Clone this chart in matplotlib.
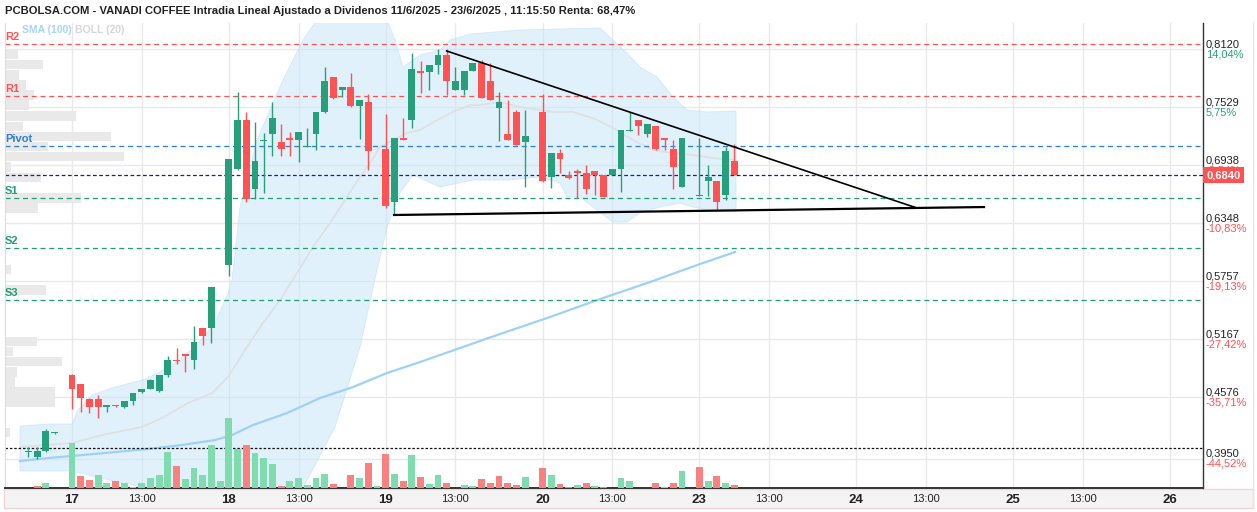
import numpy as np
import matplotlib.pyplot as plt
from matplotlib.patches import Rectangle

plt.rcParams['font.family'] = ['Liberation Sans', 'DejaVu Sans']

# x unit = one 30 min candle, 18 slots per session, slot 0 = 17/6 09:00
day16 = [-5, -4, -3, -2]
slot = day16 + list(range(0, 17)) + list(range(18, 35)) + list(range(36, 53)) \
    + list(range(54, 71)) + list(range(72, 77))

o = [0.4019, 0.3971, 0.4029, 0.4212,
     # 17
     0.4803, 0.4712, 0.4559, 0.4559, 0.4477, 0.4495, 0.4477, 0.4538, 0.4633,
     0.4661, 0.4643, 0.4803, 0.4956, 0.5017, 0.4956, 0.5282, 0.5282,
     # 18
     0.5923, 0.6901, 0.7400, 0.6700, 0.7186, 0.7261, 0.7176, 0.7214, 0.7200,
     0.7128, 0.7261, 0.7485, 0.7838, 0.7709, 0.7736, 0.7546, 0.7583,
     # 19
     0.7105, 0.6568, 0.7217, 0.7403, 0.7899, 0.7886, 0.7963, 0.8062, 0.7706,
     0.7706, 0.7899, 0.7980, 0.7797, 0.7525, 0.7257, 0.7481, 0.7179,
     # 20
     0.7481, 0.6820, 0.7064, 0.6837, 0.6878, 0.6860, 0.6881, 0.6840, 0.6840,
     0.6904, 0.7290, 0.7400, 0.7261, 0.7339, 0.7217, 0.7105, 0.6718,
     # 23
     0.6623, 0.6782, 0.6779, 0.6636, 0.6983]
h = [0.4073, 0.4073, 0.4253, 0.4226,
     0.4810, 0.4715, 0.4572, 0.4600, 0.4498, 0.4495, 0.4538, 0.4620, 0.4661,
     0.4762, 0.4803, 0.4997, 0.5078, 0.5017, 0.5302, 0.5282, 0.5699,
     0.7003, 0.7682, 0.7478, 0.7377, 0.7271, 0.7580, 0.7356, 0.7278, 0.7278,
     0.7315, 0.7481, 0.7937, 0.7838, 0.7736, 0.7876, 0.7604, 0.7662,
     0.7461, 0.7217, 0.7417, 0.8079, 0.8001, 0.7960, 0.8120, 0.8120, 0.7937,
     0.7899, 0.7980, 0.8011, 0.7980, 0.7682, 0.7604, 0.7502, 0.7502,
     0.7665, 0.7064, 0.7105, 0.6878, 0.6901, 0.6939, 0.6881, 0.6840, 0.6901,
     0.7298, 0.7481, 0.7400, 0.7359, 0.7339, 0.7217, 0.7196, 0.7217,
     0.7217, 0.6942, 0.6779, 0.7125, 0.7156]
l = [0.3965, 0.3948, 0.4022, 0.4202,
     0.4457, 0.4430, 0.4419, 0.4362, 0.4430, 0.4480, 0.4470, 0.4498, 0.4623,
     0.4661, 0.4633, 0.4786, 0.4912, 0.4837, 0.4867, 0.5109, 0.5132,
     0.5815, 0.6891, 0.6562, 0.6596, 0.6657, 0.7037, 0.7037, 0.7037, 0.6975,
     0.7128, 0.7098, 0.7474, 0.7614, 0.7637, 0.7535, 0.7207, 0.6894,
     0.6501, 0.6436, 0.7196, 0.7316, 0.7678, 0.7709, 0.7872, 0.7658, 0.7706,
     0.7658, 0.7899, 0.7627, 0.7604, 0.7189, 0.7196, 0.7145, 0.6715,
     0.6772, 0.6711, 0.6857, 0.6796, 0.6609, 0.6650, 0.6633, 0.6619, 0.6840,
     0.6670, 0.7288, 0.7250, 0.7230, 0.7098, 0.7098, 0.6694, 0.6718,
     0.6623, 0.6629, 0.6476, 0.6582, 0.6840]
c = [0.4024, 0.4029, 0.4233, 0.4218,
     0.4661, 0.4572, 0.4480, 0.4480, 0.4498, 0.4485, 0.4538, 0.4620, 0.4661,
     0.4752, 0.4803, 0.4956, 0.4946, 0.5000, 0.5139, 0.5200, 0.5699,
     0.7003, 0.7400, 0.6599, 0.6983, 0.7190, 0.7420, 0.7108, 0.7200, 0.7278,
     0.7135, 0.7481, 0.7797, 0.7624, 0.7736, 0.7546, 0.7604, 0.7087,
     0.6527, 0.7217, 0.7196, 0.7919, 0.7882, 0.7960, 0.8062, 0.7800, 0.7797,
     0.7899, 0.7980, 0.7627, 0.7604, 0.7583, 0.7196, 0.7145, 0.7237,
     0.6779, 0.7064, 0.7006, 0.6806, 0.6860, 0.6700, 0.6840, 0.6619, 0.6901,
     0.7298, 0.7298, 0.7342, 0.7359, 0.7105, 0.7200, 0.6921, 0.7217,
     0.6633, 0.6820, 0.6568, 0.7084, 0.6840]

# volume (relative), up = green
vol_slot = [-4, -3, 0, 1, 2, 3, 4, 5, 6, 7, 8, 9, 10, 11, 12, 13, 14, 15, 16, 17,
            18, 19, 20, 21, 22, 23, 24, 25, 26, 27, 28, 29, 30, 32, 33, 34, 35,
            36, 37, 38, 39, 40, 41, 42, 43, 45, 46, 47, 48, 49, 50, 51, 52,
            54, 55, 56, 57, 58, 59, 60, 61, 63, 64, 67, 68, 69, 70,
            72, 73, 74, 75, 76]
vol = [2.3, 5, 45, 12.3, 8, 13.3, 5, 7, 5, 1.3, 5, 10.3, 13, 36, 22.3, 9.3, 20.3, 13.3, 43, 7,
       70, 39, 43, 35, 30, 24, 2.3, 7, 10, 3, 10, 14, 4, 13, 10, 25, 2.3,
       34, 14, 7, 33, 11.3, 4, 13, 5, 3, 2, 9, 5, 12, 5, 3, 11,
       20, 13, 4, 1.3, 3, 5, 2, 1.3, 10, 7, 5, 1.3, 5, 17,
       21, 7, 12, 5, 3]
vol_up = [0, 1, 1, 0, 0, 1, 1, 0, 1, 1, 1, 1, 1, 1, 0, 1, 1, 1, 1, 1,
          1, 1, 0, 1, 1, 1, 0, 1, 1, 1, 1, 1, 0, 0, 1, 0, 1,
          0, 1, 0, 1, 0, 1, 1, 0, 1, 1, 0, 0, 0, 0, 0, 1,
          0, 1, 0, 0, 1, 0, 1, 0, 1, 1, 0, 1, 0, 1,
          0, 1, 0, 1, 0]

# volume profile on the left (price level, relative size)
prof_price = [0.8067, 0.7965, 0.7858, 0.7756, 0.7655, 0.7553, 0.7441, 0.7336,
              0.7234, 0.7132, 0.7026, 0.6921, 0.6817, 0.6606, 0.6504, 0.5880,
              0.5669, 0.5147, 0.5045, 0.4943, 0.4834, 0.4732, 0.4630, 0.4528,
              0.4218]
prof_size = [13, 38, 14, 21, 29, 24, 71, 18, 106, 43, 119, 6, 36, 76, 33, 6,
             41, 32, 8, 57, 12, 10, 50, 50, 5]

# Bollinger (20) bands and SMA (100)
bb_up_x = [-5.97, -2.75, 0, 0.69, 2.30, 4.93, 8.03, 9.87, 11.82, 14.12, 16.41,
           17.90, 18.36, 19.28, 21.23, 24.10, 26.51, 28.46, 35.92, 37.07, 37.98,
           39.94, 42.23, 43.38, 45.67, 51.41, 60.59, 63.69, 65.18, 67.13, 68.97,
           70.58, 72.87, 76.20]
bb_up_y = [0.4284, 0.4304, 0.4304, 0.4447, 0.4600, 0.4681, 0.4752, 0.4824, 0.4926,
           0.5088, 0.5333, 0.5638, 0.5771, 0.6514, 0.7196, 0.7787, 0.8215, 0.8469,
           0.8469, 0.8215, 0.7940, 0.8062, 0.8113, 0.8215, 0.8276, 0.8317, 0.8337,
           0.8082, 0.7940, 0.7838, 0.7634, 0.7502, 0.7482, 0.7492]
bb_lo_x = [-5.97, 0, 3.21, 6.66, 10.10, 14.69, 21.57, 26.16, 26.51, 30.18, 33.05,
           35.00, 36.15, 37.64, 39.13, 42.23, 46.02, 49.92, 53.71, 56.00, 56.81,
           58.30, 59.79, 62.08, 63.69, 65.18, 67.48, 69.77, 71.26, 72.87, 76.20]
bb_lo_y = [0.3826, 0.3826, 0.3755, 0.3693, 0.3612, 0.3531, 0.3480, 0.3581, 0.3653,
           0.4274, 0.5088, 0.5873, 0.6310, 0.6657, 0.6840, 0.6718, 0.6789, 0.6789,
           0.6820, 0.6759, 0.6616, 0.6616, 0.6514, 0.6361, 0.6361, 0.6453, 0.6514,
           0.6555, 0.6514, 0.6484, 0.6463]
bb_mid_x = [-5.97, 0, 3.44, 8.03, 10.33, 13.31, 16.07, 17.90, 19.85, 21.92, 23.87,
            25.82, 27.66, 29.61, 31.56, 33.05, 34.20, 35.35, 36.84, 38.44, 39.94,
            41.89, 43.72, 45.67, 46.82, 49.12, 51.41, 53.71, 55.20, 57.49, 59.79,
            62.08, 64.38, 66.67, 68.97, 71.26, 73.56, 75.85]
bb_mid_y = [0.4070, 0.4111, 0.4192, 0.4274, 0.4366, 0.4518, 0.4620, 0.4783, 0.5058,
            0.5333, 0.5567, 0.5842, 0.6107, 0.6351, 0.6616, 0.6820, 0.6962, 0.7125,
            0.7196, 0.7268, 0.7298, 0.7400, 0.7482, 0.7553, 0.7553, 0.7583, 0.7532,
            0.7502, 0.7482, 0.7482, 0.7420, 0.7319, 0.7196, 0.7095, 0.7064, 0.7044,
            0.7013, 0.6993]
sma_x = [-5.97, -2.75, 0, 4.93, 8.72, 12.62, 16.41, 18.36, 20.77, 24.67, 28.46,
         32.25, 36.15, 39.94, 49.12, 54.85, 60.59, 66.33, 72.07, 76.09]
sma_y = [0.3928, 0.3958, 0.3979, 0.4019, 0.4050, 0.4091, 0.4141, 0.4192, 0.4294,
         0.4416, 0.4569, 0.4681, 0.4824, 0.4936, 0.5221, 0.5394, 0.5577, 0.5750,
         0.5934, 0.6056]

# pivot levels
piv_names = ['R2', 'R1', 'Pivot', 'S1', 'S2', 'S3']
piv_levels = [0.8171, 0.7641, 0.7132, 0.6603, 0.6094, 0.5564]
piv_colors = ['#ff5252', '#ff5252', '#2a7de1', '#1e9e74', '#1e9e74', '#1e9e74']
last_price = 0.6840
ref_level = 0.4063

# trend lines (slot, price)
trend1 = ([43.0, 96.97], [0.8103, 0.6504])
trend2 = ([36.95, 104.66], [0.6433, 0.6514])

grid_prices = [0.8120, 0.7529, 0.6938, 0.6348, 0.5757, 0.5167, 0.4576, 0.3950]
grid_pct = ['14,04%', '5,75%', '-2,54%', '-10,83%', '-19,13%', '-27,42%',
            '-35,71%', '-44,52%']

xticks = [0, 8, 18, 26, 36, 44, 54, 62, 72, 80, 90, 98, 108, 116, 126]
xlabels = ['17', '13:00', '18', '13:00', '19', '13:00', '20', '13:00', '23',
           '13:00', '24', '13:00', '25', '13:00', '26']

title = ('PCBOLSA.COM - VANADI COFFEE Intradia Lineal Ajustado a Dividenos '
         '11/6/2025 - 23/6/2025 , 11:15:50 Renta: 68,47%')

GREEN = '#26a07a'
RED = '#ff5252'

W, H = 1257, 512
fig = plt.figure(figsize=(W / 100, H / 100), dpi=100)
ax = fig.add_axes([5 / W, 1 - 488 / H, 1198 / W, 465 / H])
ax.set_xlim(-7.69, 129.79)
ax.set_ylim(0.3653, 0.8388)

# grid
ax.set_axisbelow(True)
ax.set_yticks(grid_prices)
ax.set_yticklabels([])
ax.tick_params(axis='y', length=0)
ax.grid(True, color='#e9e9e9', lw=1)

# bottom strip behind the x labels
fig.patches.append(Rectangle((4 / W, 1 - 508 / H), 1249 / W, 19 / H,
                             transform=fig.transFigure, fc='#f4f4f4',
                             ec='#f2d4d4', lw=1, zorder=-1))

# bollinger band
ax.fill(np.r_[bb_up_x, bb_lo_x[::-1]], np.r_[bb_up_y, bb_lo_y[::-1]],
        fc='#c9e6fa', ec='#b9ddf7', lw=0.6, alpha=0.55, zorder=1)
ax.plot(bb_mid_x, bb_mid_y, color='#e0e0e0', lw=1.3, zorder=2)
ax.plot(sma_x, sma_y, color='#9dd1f7', lw=1.6, zorder=2)

# volume profile
ax.barh(prof_price, np.array(prof_size) / 1198, height=0.0096, left=0,
        color='#e9e9e9', transform=ax.get_yaxis_transform(), zorder=1.5)

# pivot lines
for name, lev, col in zip(piv_names, piv_levels, piv_colors):
    ax.axhline(lev, color=col, lw=0.9, ls=(0, (4, 3)), zorder=2.5)
    ax.annotate(name, xy=(0, lev), xycoords=('axes fraction', 'data'),
                xytext=(0, 2), textcoords='offset points', ha='left', va='bottom',
                color=col, fontsize=8, fontweight='bold', zorder=6)
ax.axhline(last_price, color='#1a1aa8', lw=0.9, ls=(0, (3, 2)), zorder=2.5)
ax.axhline(ref_level, color='#111111', lw=0.9, ls=(0, (2, 1.5)), zorder=2.5)

# volume bars at the bottom
vcol = ['#7fdcae' if u else '#fb8080' for u in vol_up]
ax.bar(vol_slot, np.array(vol) / 465, width=0.78, bottom=0, color=vcol,
       transform=ax.get_xaxis_transform(), zorder=3)

# candles
col = [GREEN if cc >= oo else RED for oo, cc in zip(o, c)]
ax.vlines(slot, l, h, colors=col, lw=1, zorder=4)
body_lo = np.minimum(o, c)
body_h = np.maximum(np.abs(np.array(c) - np.array(o)), 0.0012)
ax.bar(slot, body_h, width=0.78, bottom=body_lo, color=col, zorder=4.5)

# trend lines
ax.plot(*trend1, color='black', lw=1.2, zorder=5)
ax.plot(*trend2, color='black', lw=1.6, zorder=5)

# right axis labels
for p, pct in zip(grid_prices, grid_pct):
    ax.annotate(f'{p:.4f}'.replace('.', ','), xy=(1, p),
                xycoords=('axes fraction', 'data'), xytext=(2, 3.6),
                textcoords='offset points', ha='left', va='center',
                fontsize=8, color='#222222', annotation_clip=False)
    ax.annotate(pct, xy=(1, p), xycoords=('axes fraction', 'data'),
                xytext=(2, -3.6), textcoords='offset points', ha='left',
                va='center', fontsize=8, annotation_clip=False,
                color=GREEN if not pct.startswith('-') else RED)
ax.annotate(f'{last_price:.4f}'.replace('.', ','), xy=(1, last_price),
            xycoords=('axes fraction', 'data'), xytext=(2.5, 0),
            textcoords='offset points', ha='left', va='center', fontsize=8,
            color='white', fontweight='bold', annotation_clip=False, zorder=10,
            bbox=dict(boxstyle='square,pad=0.3', fc=RED, ec='none'))

# x axis
ax.set_xticks(xticks)
ax.set_xticklabels(xlabels)
ax.tick_params(axis='x', length=0, pad=4.5, colors='#222222')
for t in ax.get_xticklabels():
    if ':' in t.get_text():
        t.set_fontsize(8)
    else:
        t.set_fontsize(9.5)
        t.set_fontweight('bold')

ax.spines['top'].set_visible(False)
ax.spines['left'].set_color('#dddddd')
ax.spines['bottom'].set_color('#333333')
ax.spines['bottom'].set_linewidth(1.4)
ax.spines['right'].set_color('#333333')
ax.spines['right'].set_linewidth(1)

fig.add_artist(plt.Line2D([1252.5 / W] * 2, [1 - 508 / H, 1 - 22 / H],
                          color='#e6e6e6', lw=1))

fig.text(5 / W, 1 - 11 / H, title, va='center', ha='left', fontsize=8.1,
         fontweight='bold', color='#222222')
fig.text(22 / W, 1 - 30 / H, 'SMA (100)', va='center', ha='left', fontsize=7.5,
         fontweight='bold', color='#a6d5f7')
fig.text(75 / W, 1 - 30 / H, 'BOLL (20)', va='center', ha='left', fontsize=7.5,
         fontweight='bold', color='#d6d6d6')

fig.savefig('out.png', dpi=100)
